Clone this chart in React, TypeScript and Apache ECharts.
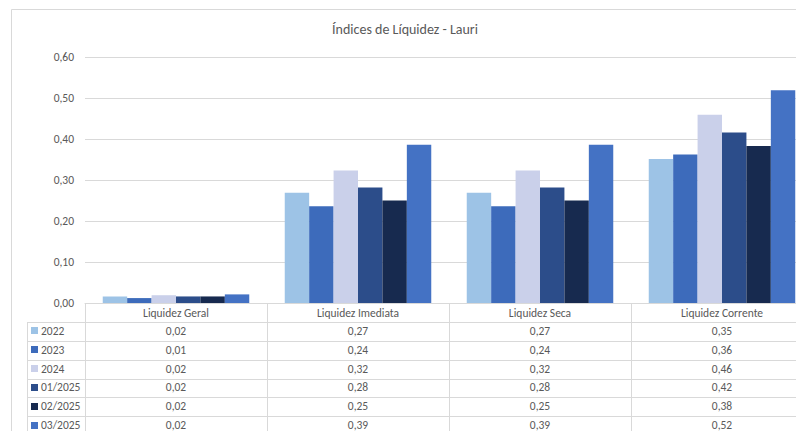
import React, { useEffect, useRef } from "react";
import * as echarts from "echarts";

const title = "Índices de Líquidez - Lauri";
const categories = ["Liquidez Geral", "Liquidez Imediata", "Liquidez Seca", "Liquidez Corrente"];
const seriesNames = ["2022", "2023", "2024", "01/2025", "02/2025", "03/2025"];
const s2022 = [0.016, 0.269, 0.269, 0.351];
const s2023 = [0.012, 0.236, 0.236, 0.362];
const s2024 = [0.019, 0.323, 0.323, 0.459];
const s012025 = [0.016, 0.282, 0.282, 0.416];
const s022025 = [0.016, 0.25, 0.25, 0.383];
const s032025 = [0.021, 0.386, 0.386, 0.519];
const seriesValues = [s2022, s2023, s2024, s012025, s022025, s032025];
const colors = ["#9DC3E6", "#3D6BBB", "#CAD0EA", "#2C4D8A", "#172A4F", "#4472C4"];

const FONT = "Calibri, Carlito, Lato, sans-serif";
const TXT = "#595959";
const LINE = "#d9d9d9";

const PLOT_L = 85;
const PLOT_T = 57;
const PLOT_H = 246;
const CAT_W = 182;
const PLOT_W = CAT_W * categories.length;
const TABLE_TOP = PLOT_T + PLOT_H;
const HEADER_H = 19;
const ROW_H = 18.85;
const LEFT_X = 27;

const fmt = (v: number) => v.toFixed(2).replace(".", ",");

export default function App() {
  const ref = useRef<HTMLDivElement>(null);
  useEffect(() => {
    if (!ref.current) return;
    const chart = echarts.init(ref.current, undefined, { renderer: "svg" });
    const graphic: any[] = [];
    graphic.push({
      type: "rect",
      shape: { x: 11.5, y: 9.5, width: 1000, height: 800 },
      style: { fill: "none", stroke: LINE, lineWidth: 1 },
      silent: true,
    });
    graphic.push({
      type: "text",
      x: 405,
      y: 29.5,
      style: { text: title, fill: TXT, font: `14px ${FONT}`, textAlign: "center", textVerticalAlign: "middle" },
    });
    const bottom = 460;
    for (let i = 0; i <= categories.length; i++) {
      const x = Math.round(PLOT_L + i * CAT_W) + 0.5;
      graphic.push({ type: "line", shape: { x1: x, y1: TABLE_TOP, x2: x, y2: bottom }, style: { stroke: LINE, lineWidth: 1 } });
    }
    graphic.push({ type: "line", shape: { x1: LEFT_X + 0.5, y1: TABLE_TOP + HEADER_H, x2: LEFT_X + 0.5, y2: bottom }, style: { stroke: LINE, lineWidth: 1 } });
    for (let k = 0; k <= seriesNames.length; k++) {
      const y = Math.round(TABLE_TOP + HEADER_H + k * ROW_H) + 0.5;
      graphic.push({ type: "line", shape: { x1: LEFT_X, y1: y, x2: PLOT_L + PLOT_W, y2: y }, style: { stroke: LINE, lineWidth: 1 } });
    }
    categories.forEach((c, i) => {
      graphic.push({
        type: "text",
        x: PLOT_L + i * CAT_W + CAT_W / 2,
        y: TABLE_TOP + HEADER_H / 2 + 0.5,
        style: { text: c, fill: TXT, font: `11.5px ${FONT}`, textAlign: "center", textVerticalAlign: "middle" },
      });
    });
    seriesNames.forEach((name, k) => {
      const cy = TABLE_TOP + HEADER_H + k * ROW_H + ROW_H / 2 - 0.5;
      graphic.push({
        type: "rect",
        shape: { x: 31, y: Math.round(cy - 3.5), width: 7, height: 7 },
        style: { fill: colors[k] },
      });
      graphic.push({
        type: "text",
        x: 41,
        y: cy,
        style: { text: name, fill: TXT, font: `11.5px ${FONT}`, textAlign: "left", textVerticalAlign: "middle" },
      });
      seriesValues[k].forEach((v, i) => {
        graphic.push({
          type: "text",
          x: PLOT_L + i * CAT_W + CAT_W / 2,
          y: cy,
          style: { text: fmt(v), fill: TXT, font: `11.5px ${FONT}`, textAlign: "center", textVerticalAlign: "middle" },
        });
      });
    });

    chart.setOption({
      animation: false,
      backgroundColor: "#ffffff",
      grid: { left: PLOT_L, top: PLOT_T, width: PLOT_W, height: PLOT_H, containLabel: false },
      xAxis: {
        type: "category",
        data: categories,
        axisLine: { show: true, lineStyle: { color: LINE } },
        axisTick: { show: false },
        axisLabel: { show: false },
      },
      yAxis: {
        type: "value",
        min: 0,
        max: 0.6,
        interval: 0.1,
        axisLine: { show: false },
        axisTick: { show: false },
        axisLabel: { color: TXT, fontFamily: FONT, fontSize: 11.5, margin: 11, formatter: (v: number) => fmt(v) },
        splitLine: { lineStyle: { color: LINE } },
      },
      series: seriesNames.map((n, k) => ({
        name: n,
        type: "bar",
        data: seriesValues[k],
        barGap: "0%",
        barCategoryGap: "19.5%",
        itemStyle: { color: colors[k] },
      })),
      graphic,
    });
    return () => chart.dispose();
  }, []);
  return (
    <div style={{ position: "fixed", left: 0, top: 0, width: 796, height: 431, overflow: "hidden", background: "#fff" }}>
      <div ref={ref} style={{ position: "absolute", left: 0, top: 0, width: 840, height: 460 }} />
    </div>
  );
}
